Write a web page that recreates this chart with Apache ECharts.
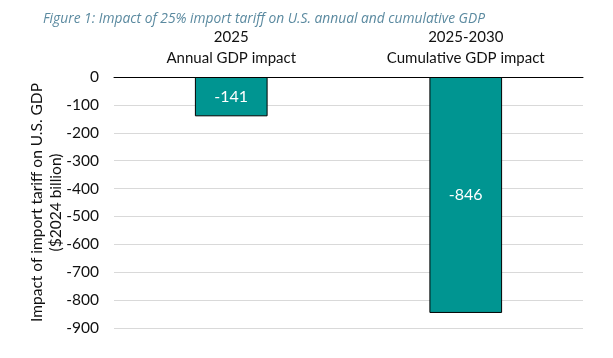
<!DOCTYPE html>
<html><head><meta charset="utf-8">
<script src="https://cdn.jsdelivr.net/npm/echarts@6/dist/echarts.min.js"></script>
<style>html,body{margin:0;padding:0;background:#fff}#c{width:613px;height:358px}</style>
</head><body><div id="c"></div>
<script>
const categories = ["2025\nAnnual GDP impact", "2025-2030\nCumulative GDP impact"];
const values = [-141, -846];
const yMin = -900, yMax = 0, yStep = 100;
const titleText = "Figure 1: Impact of 25% import tariff on U.S. annual and cumulative GDP";
const yName = "Impact of import tariff on U.S. GDP\n($2024 billion)";

const chart = echarts.init(document.getElementById('c'));
chart.setOption({
  animation: false,
  title: {
    text: titleText, left: 38, top: 7,
    textStyle: {fontFamily: "Open Sans", fontStyle: "italic", fontWeight: "normal", fontSize: 13.8, color: "#5b8aa0"}
  },
  grid: {left: 114, right: 30, top: 77, bottom: 30},
  xAxis: {
    type: 'category', position: 'top', data: categories,
    axisLine: {lineStyle: {color: '#000', width: 1}},
    axisTick: {show: false},
    axisLabel: {fontFamily: "Lato", fontSize: 15, color: '#111', lineHeight: 21, margin: 8}
  },
  yAxis: {
    type: 'value', min: yMin, max: yMax, interval: yStep,
    name: yName, nameLocation: 'middle', nameGap: 49, nameRotate: 90, nameMoveOverlap: false,
    nameTextStyle: {fontFamily: "Lato", fontSize: 15.5, color: '#111', lineHeight: 19},
    axisLine: {show: false}, axisTick: {show: false},
    axisLabel: {fontFamily: "Lato", fontSize: 15.5, color: '#111', margin: 15},
    splitLine: {lineStyle: {color: '#d9d9d9', width: 1}}
  },
  series: [{
    type: 'bar', data: values, barWidth: '31%',
    itemStyle: {color: '#009591', borderColor: '#000', borderWidth: 1},
    label: {show: true, position: 'inside', color: '#fff', fontFamily: "Lato", fontSize: 16}
  }]
});
</script></body></html>
